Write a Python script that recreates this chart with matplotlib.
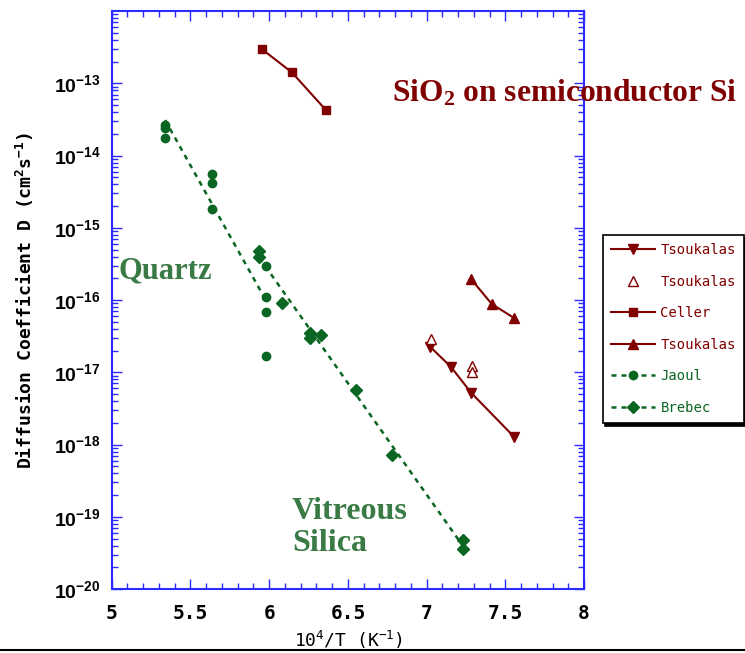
import numpy as np
import matplotlib
matplotlib.use('Agg')
import matplotlib.pyplot as plt
from matplotlib.lines import Line2D
from matplotlib.ticker import LogLocator, MultipleLocator, NullFormatter

plt.rcParams['mathtext.default'] = 'regular'

RED = '#800000'
GREEN = '#0b6623'
TEXT_GREEN = '#3a7a45'
AXIS_BLUE = '#2b2bff'

# Tsoukalas, filled down triangles (solid line)
tsouk1_x = [7.022, 7.154, 7.283, 7.558]
tsouk1_d = [2.26e-17, 1.19e-17, 5.2e-18, 1.26e-18]
# Tsoukalas, open triangles
tsouk2_x = [7.025, 7.285, 7.285]
tsouk2_d = [2.86e-17, 1.23e-17, 1.02e-17]
# Celler
celler_x = [5.953, 6.144, 6.36]
celler_d = [2.98e-13, 1.42e-13, 4.27e-14]
# Tsoukalas, filled up triangles
tsouk3_x = [7.283, 7.414, 7.558]
tsouk3_d = [1.94e-16, 8.8e-17, 5.6e-17]
# Jaoul (quartz)
jaoul_x = [5.339, 5.339, 5.339, 5.637, 5.637, 5.637, 5.978, 5.978, 5.978, 5.978]
jaoul_d = [2.64e-14, 2.38e-14, 1.77e-14, 5.5e-15, 4.12e-15, 1.82e-15,
           2.96e-16, 1.11e-16, 6.9e-17, 1.69e-17]
jaoul_fit_x = [5.339, 5.978]
jaoul_fit_d = [3.1e-14, 1.0e-16]
# Brebec (vitreous silica)
brebec_x = [5.938, 5.938, 6.08, 6.26, 6.26, 6.328, 6.552, 6.779, 7.234, 7.234]
brebec_d = [4.81e-16, 3.97e-16, 9.2e-17, 3.46e-17, 2.95e-17, 3.28e-17,
            5.67e-18, 7.16e-19, 4.76e-20, 3.55e-20]
brebec_fit_x = [5.938, 7.234]
brebec_fit_d = [3.84e-16, 3.84e-20]

x_ticks = [5, 5.5, 6, 6.5, 7, 7.5, 8]
x_labels = ['5', '5.5', '6', '6.5', '7', '7.5', '8']
y_exps = list(range(-20, -12))
y_labels = ['$10^{%d}$' % e for e in y_exps]

fig = plt.figure(figsize=(7.45, 6.53), dpi=100)
ax = fig.add_axes([0.15, 0.098, 0.634, 0.885])

dash = (0, (2, 2))
ax.plot(tsouk1_x, tsouk1_d, color=RED, lw=1.5, marker='v', ms=7)
ax.plot(tsouk2_x, tsouk2_d, color=RED, lw=0, marker='^', ms=7, mfc='white', mew=1)
ax.plot(celler_x, celler_d, color=RED, lw=1.5, marker='s', ms=6)
ax.plot(tsouk3_x, tsouk3_d, color=RED, lw=1.5, marker='^', ms=7)
ax.plot(jaoul_fit_x, jaoul_fit_d, color=GREEN, lw=1.8, ls=dash)
ax.plot(jaoul_x, jaoul_d, color=GREEN, lw=0, marker='o', ms=6)
ax.plot(brebec_fit_x, brebec_fit_d, color=GREEN, lw=1.8, ls=dash)
ax.plot(brebec_x, brebec_d, color=GREEN, lw=0, marker='D', ms=6)

ax.set_xlim(5, 8)
ax.set_yscale('log')
ax.set_ylim(1e-20, 1e-12)

ax.set_xticks(x_ticks, labels=x_labels, fontfamily='DejaVu Sans Mono',
              fontweight='bold', fontsize=14)
ax.xaxis.set_minor_locator(MultipleLocator(0.1))
ax.set_yticks([10.0 ** e for e in y_exps], labels=y_labels,
              fontfamily='Liberation Sans', fontweight='bold', fontsize=14)
ax.yaxis.set_minor_locator(LogLocator(base=10, subs=np.arange(2, 10), numticks=30))
ax.yaxis.set_minor_formatter(NullFormatter())

ax.tick_params(which='both', direction='in', top=True, right=True, color=AXIS_BLUE)
ax.tick_params(which='major', length=7, width=1)
ax.tick_params(which='minor', length=4, width=1)
ax.tick_params(axis='x', pad=11)
ax.tick_params(axis='y', pad=8)
for s in ax.spines.values():
    s.set_color(AXIS_BLUE)
    s.set_linewidth(1.5)

# annotations
ax.text(6.779, 10 ** -13.255, 'SiO$_2$ on semiconductor Si', color=RED,
        fontfamily='Liberation Serif', fontweight='bold', fontsize=22.7, va='baseline')
ax.text(5.04, 10 ** -15.6, 'Quartz', color=TEXT_GREEN,
        fontfamily='Liberation Serif', fontweight='bold', fontsize=22, va='center')
ax.text(6.144, 10 ** -18.73, 'Vitreous\nSilica', color=TEXT_GREEN,
        fontfamily='Liberation Serif', fontweight='bold', fontsize=23, va='top',
        linespacing=1.12)

fig.text(0.033, 1 - 300 / 653, 'Diffusion Coefficient D (cm$^2$s$^{-1}$)',
         rotation=90, ha='center', va='center', fontfamily='DejaVu Sans Mono',
         fontsize=13, fontweight='bold')
fig.text(349 / 745, 1 - 629 / 653, '10$^4$/T (K$^{-1}$)', ha='center', va='top',
         fontfamily='DejaVu Sans Mono', fontsize=13)

handles = [
    Line2D([], [], color=RED, lw=1.5, marker='v', ms=7),
    Line2D([], [], color=RED, lw=0, marker='^', ms=7, mfc='white', mew=1),
    Line2D([], [], color=RED, lw=1.5, marker='s', ms=6),
    Line2D([], [], color=RED, lw=1.5, marker='^', ms=7),
    Line2D([], [], color=GREEN, lw=1.8, ls=dash, marker='o', ms=6),
    Line2D([], [], color=GREEN, lw=1.8, ls=dash, marker='D', ms=6),
]
names = ['Tsoukalas', 'Tsoukalas', 'Celler', 'Tsoukalas', 'Jaoul', 'Brebec']
leg = fig.legend(handles, names, loc='upper left',
                 bbox_to_anchor=(602.7 / 745, 1 - 235 / 653),
                 bbox_transform=fig.transFigure, fancybox=False,
                 shadow={'color': 'black', 'alpha': 1},
                 edgecolor='black', framealpha=1, labelcolor='linecolor',
                 prop={'family': 'DejaVu Sans Mono', 'size': 10},
                 handlelength=3.2, handletextpad=0.36, labelspacing=1.26,
                 borderpad=0.6, borderaxespad=0)
leg.get_frame().set_linewidth(1.2)

fig.add_artist(Line2D([0, 1], [1 - 650 / 653] * 2, transform=fig.transFigure,
                      color='black', lw=1.5))

fig.savefig('out.png', dpi=100)
